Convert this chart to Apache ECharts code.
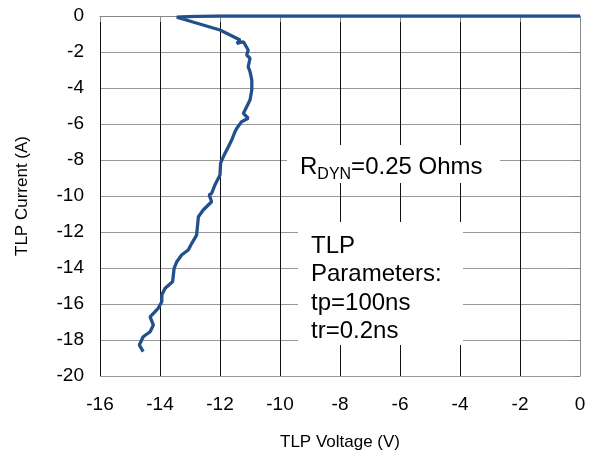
<!DOCTYPE html>
<html>
<head>
<meta charset="utf-8">
<script src="https://cdn.jsdelivr.net/npm/echarts@6/dist/echarts.min.js"></script>
<style>
  html, body { margin: 0; padding: 0; background: #fff; }
  #chart { width: 596px; height: 458px; }
</style>
</head>
<body>
<div id="chart"></div>
<script>
// TLP I-V curve (voltage in V, current in A)
var voltage = [0, -2, -4, -6, -8, -10, -12, -12.8, -13.3, -13.44,
  -12.0, -11.33, -11.44, -11.22, -11.06, -11.11, -11.0, -11.06, -11.0, -10.94,
  -10.94, -11.0, -11.11, -11.22, -11.06, -11.28, -11.44, -11.5, -11.61, -11.72,
  -11.89, -11.98, -12.0, -12.17, -12.28, -12.36, -12.28, -12.56, -12.72, -12.78,
  -12.94, -13.06, -13.28, -13.44, -13.53, -13.58, -13.83, -13.94, -13.94, -14.06,
  -14.33, -14.22, -14.33, -14.56, -14.69, -14.56];
var current = [0, 0, 0, 0, 0, 0, 0, -0.02, -0.05, -0.07,
  -0.78, -1.33, -1.52, -1.43, -1.89, -2.17, -2.35, -2.82, -3.09, -3.56,
  -4.11, -4.67, -5.04, -5.41, -5.68, -5.87, -6.24, -6.43, -6.89, -7.26,
  -7.82, -8.18, -8.83, -9.39, -9.85, -9.94, -10.32, -10.78, -11.15, -12.17,
  -12.63, -13.0, -13.28, -13.65, -14.02, -14.76, -15.13, -15.5, -15.87, -16.24,
  -16.71, -17.17, -17.54, -17.82, -18.28, -18.65];

var font = 'Liberation Sans, Arial, sans-serif';

var points = [];
for (var i = 0; i < voltage.length; i++) {
  points.push([voltage[i], current[i]]);
}

var chart = echarts.init(document.getElementById('chart'));
chart.setOption({
  animation: false,
  textStyle: { fontFamily: font },
  grid: { left: 100, right: 16, top: 16, bottom: 82 },
  xAxis: {
    type: 'value',
    min: -16, max: 0, interval: 2,
    name: 'TLP Voltage (V)',
    nameLocation: 'middle',
    nameGap: 58,
    nameTextStyle: { fontSize: 17, color: '#000', fontFamily: font },
    axisLine: { lineStyle: { color: '#888' } },
    axisTick: { show: true, length: 6, lineStyle: { color: '#888' } },
    axisLabel: { fontSize: 19, color: '#000', margin: 19, fontFamily: font },
    splitLine: { lineStyle: { color: '#111', width: 1 } }
  },
  yAxis: {
    type: 'value',
    min: -20, max: 0, interval: 2,
    name: 'TLP Current (A)',
    nameLocation: 'middle',
    nameGap: 69,
    nameRotate: 90,
    nameTextStyle: { fontSize: 17, color: '#000', fontFamily: font },
    axisLine: { show: true, lineStyle: { color: '#888' } },
    axisTick: { show: true, length: 6, lineStyle: { color: '#888' } },
    axisLabel: { fontSize: 19, color: '#000', margin: 16, fontFamily: font },
    splitLine: { lineStyle: { color: '#999', width: 1 } }
  },
  series: [{
    type: 'line',
    data: points,
    showSymbol: false,
    smooth: false,
    lineStyle: { color: '#21508c', width: 3.3 },
    z: 5
  }],
  graphic: [
    {
      type: 'rect', left: 287, top: 145, z: 10,
      shape: { width: 213, height: 38 },
      style: { fill: '#fff' }
    },
    {
      type: 'text', left: 300, top: 155, z: 11,
      style: {
        text: '{n|R}{s|DYN}{n|=0.25 Ohms}',
        rich: {
          n: { fontSize: 24, lineHeight: 24, verticalAlign: 'top', fontFamily: font, fill: '#000' },
          s: { fontSize: 16, lineHeight: 16, verticalAlign: 'top', padding: [12, 0, 0, 0], fontFamily: font, fill: '#000' }
        }
      }
    },
    {
      type: 'rect', left: 298, top: 222, z: 10,
      shape: { width: 165, height: 123 },
      style: { fill: '#fff' }
    },
    {
      type: 'text', left: 311, top: 232, z: 11,
      style: {
        text: 'TLP\nParameters:\ntp=100ns\ntr=0.2ns',
        font: '24px ' + font,
        lineHeight: 28.5,
        fill: '#000'
      }
    }
  ]
});
</script>
</body>
</html>
